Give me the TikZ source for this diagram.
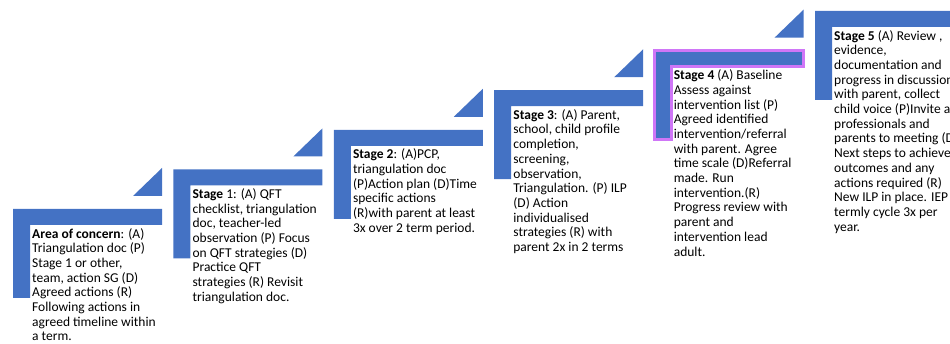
\documentclass[tikz,border=0pt]{standalone}
\usepackage{fontspec}
\setmainfont{Carlito}
\usetikzlibrary{calc}
\definecolor{stageblue}{RGB}{68,114,196}
\definecolor{stagepurple}{RGB}{207,118,247}
\tikzset{stagetext/.style={anchor=north west, inner sep=0pt, align=left,
    font=\fontsize{13.5}{14.7}\selectfont}}

\begin{document}
\begin{tikzpicture}[x=1pt,y=-1pt]

  \useasboundingbox (0,0) rectangle (950,344);
  \clip (0,0) rectangle (950,344);

  \def\stepw{149}
  \def\steph{89}

  % steps and little triangles
  \foreach \i in {0,...,5} {
    \coordinate (s\i) at ({13+160.4*\i},{209-39.6*\i});
    \fill[stageblue] (s\i) -- ++(\stepw,0) -- ++(0,16) -- ++({17-\stepw},0)
      -- ++(0,\steph-16) -- ++(-17,0) -- cycle;
    \fill[stageblue] ($(s\i)+(\stepw,-13)$) -- ++(0,-28) -- ++(-29,28) -- cycle;
  }

  \draw[stagepurple, line width=2.5pt] (s4) -- ++(\stepw,0) -- ++(0,16)
    -- ++({17-\stepw},0) -- ++(0,\steph-16) -- ++(-17,0) -- cycle;

  \node[stagetext] (area) at ($(s0)+(19,19)$)
    {\textbf{Area of concern}: (A)\\Triangulation doc (P)\\Stage 1 or other,\\
     team, action SG (D)\\Agreed actions (R)\\Following actions in\\
     agreed timeline within\\a term.};

  \node[stagetext] (stage1) at ($(s1)+(19,19)$)
    {\textbf{Stage} 1: (A) QFT\\checklist, triangulation\\doc, teacher-led\\
     observation (P) Focus\\on QFT strategies (D)\\Practice QFT\\
     strategies (R) Revisit\\triangulation doc.};

  \node[stagetext] (stage2) at ($(s2)+(19,19)$)
    {\textbf{Stage 2}: (A)PCP,\\triangulation doc\\(P)Action plan (D)Time\\
     specific actions\\(R)with parent at least\\3x over 2 term period.};

  \node[stagetext] (stage3) at ($(s3)+(19,19)$)
    {\textbf{Stage 3}: (A) Parent,\\school, child profile\\completion,\\screening,\\
     observation,\\Triangulation. (P) ILP\\(D) Action\\individualised\\
     strategies (R) with\\parent 2x in 2 terms};

  \node[stagetext] (stage4) at ($(s4)+(19,19)$)
    {\textbf{Stage 4} (A) Baseline\\Assess against\\intervention list (P)\\
     Agreed identified\\intervention/referral\\with parent. Agree\\
     time scale (D)Referral\\made. Run\\intervention.(R)\\
     Progress review with\\parent and\\intervention lead\\adult.};

  \node[stagetext] (stage5) at ($(s5)+(19,19)$)
    {\textbf{Stage 5} (A) Review ,\\evidence,\\documentation and\\
     progress in discussion\\with parent, collect\\child voice (P)Invite all\\
     professionals and\\parents to meeting (D)\\Next steps to achieve\\
     outcomes and any\\actions required (R)\\New ILP in place. IEP\\
     termly cycle 3x per\\year.};

\end{tikzpicture}
\end{document}
